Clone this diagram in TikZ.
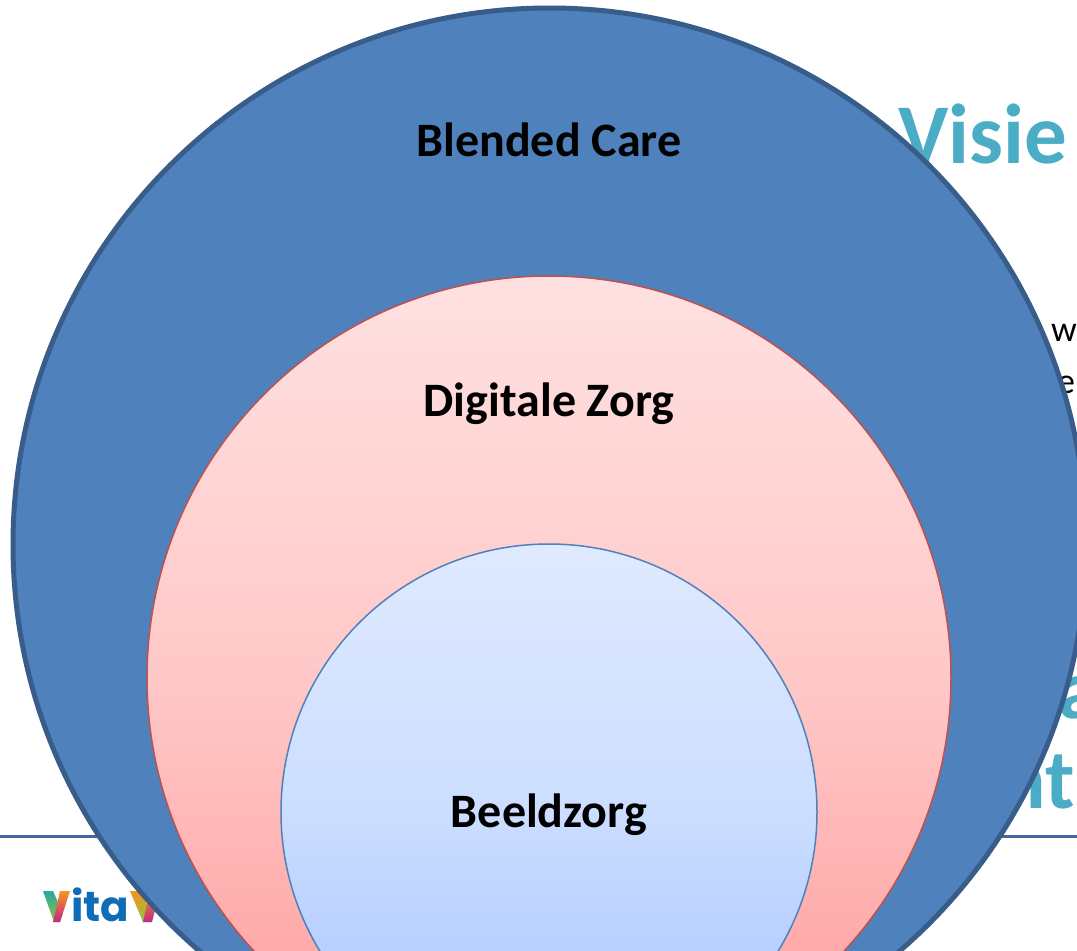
\documentclass[tikz,border=0pt]{standalone}
\usepackage{fontspec}
\setmainfont{Carlito}
\newfontfamily\logofont{Poppins}
\definecolor{slideteal}{HTML}{4BACC6}
\definecolor{ruleblue}{HTML}{41699E}
\definecolor{logoblue}{HTML}{0F6CB6}
\definecolor{logoteal}{HTML}{2AA7A0}
\definecolor{logogreen}{HTML}{8CC63F}
\definecolor{logoorange}{HTML}{F7941D}
\definecolor{logopink}{HTML}{C2288C}
\definecolor{outerfill}{HTML}{4F81BD}
\definecolor{outerline}{HTML}{385D8A}
\definecolor{midline}{HTML}{C0504D}
\definecolor{midtop}{HTML}{FFE1E1}
\definecolor{midcentre}{HTML}{FFC8C8}
\definecolor{midbottom}{HTML}{FF9C9C}
\definecolor{innerline}{HTML}{4F81BD}
\definecolor{innertop}{HTML}{E0EAFF}
\definecolor{innercentre}{HTML}{CCDDFF}
\definecolor{innerbottom}{HTML}{A3C4FF}
\tikzset{
    zone/.style={circle, draw, inner sep=0pt},
    zonelabel/.style={font=\fontsize{48}{48}\selectfont\bfseries, text=black, inner sep=0pt, anchor=base},
    slide/.style={font=\fontsize{85}{85}\selectfont\bfseries, text=slideteal, inner sep=0pt, anchor=base west},
    bodytext/.style={font=\fontsize{36}{36}\selectfont, text=black, inner sep=0pt, anchor=base west},
    logotext/.style={font=\logofont\fontsize{42}{42}\selectfont\bfseries, text=logoblue, inner sep=0pt, anchor=base west},
}
\begin{document}
\begin{tikzpicture}[x=1pt, y=-1pt]
        \useasboundingbox (0,0) rectangle (1077,951);
        \fill[white] (0,0) rectangle (1077,951);

        % Slide behind the circles
        \node[slide] (visie) at (898,163) {Visie};
        \node[slide] (restA) at (1058,718) {a};
        \node[slide] (restB) at (1000,808) {nt};
        \node[bodytext] (restC) at (1051,341) {w};
        \node[bodytext] (restD) at (1057,393) {e};
        \coordinate (ruleL) at (0,836);
        \coordinate (ruleR) at (1077,836);
        \draw[ruleblue, line width=3pt] (ruleL) -- (ruleR);

        % Logo
        \shade[top color=logoteal, bottom color=logogreen] (43,891) -- (53,891) -- (63,913) -- (60,922) -- (54,922) -- cycle;
        \shade[top color=logoorange, bottom color=logopink] (70,891) -- (60,891) -- (53,922) -- (60,922) -- cycle;
        \node[logotext] (logo) at (71,921) {ita};
        \shade[top color=logoorange, bottom color=logogreen] (130,891) -- (143,891) -- (152,922) -- (143,922) -- cycle;
        \shade[top color=logoorange, bottom color=logopink] (160,891) -- (150,891) -- (143,922) -- (152,922) -- cycle;

        % Circles
        \node[zone, minimum size=1073pt, line width=5pt, draw=outerline, fill=outerfill] (blended) at (549.5,544.5) {};
        \node[zone, minimum size=804pt, line width=1.5pt, draw=midline, top color=midtop, bottom color=midbottom, middle color=midcentre] (digitaal) at (549,678) {};
        \node[zone, minimum size=536pt, line width=1.5pt, draw=innerline, top color=innertop, bottom color=innerbottom, middle color=innercentre] (beeld) at (549,812) {};

        % Labels
        \node[zonelabel] (blendedlabel) at (549,156) {Blended Care};
        \node[zonelabel] (digitaallabel) at (549,416) {Digitale Zorg};
        \node[zonelabel] (beeldlabel) at (549,827) {Beeldzorg};
    \end{tikzpicture}
\end{document}
